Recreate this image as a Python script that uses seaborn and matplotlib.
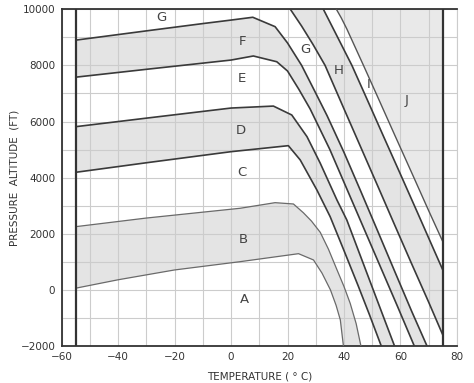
import matplotlib
matplotlib.use("Agg")
import matplotlib.pyplot as plt
import seaborn as sns
import numpy as np
import pandas as pd

# ---------------------------------------------------
# Chart data (temperature in deg C, altitude in ft)
# ---------------------------------------------------

# band F (upper left band, continues down to the right)
f_top_temp = [-55, -30, -10, 0, 7.7, 15.6, 20, 25, 30, 34, 40, 46, 52, 58, 64, 69.4]
f_top_alt = [8900, 9230, 9490, 9615, 9715, 9380, 8800, 8000, 7010, 6210, 4900, 3500, 2080, 650, -770, -2000]

f_bot_temp = [-55, -30, 0, 7.9, 16.2, 20, 24, 28, 35, 41, 47, 53, 59, 64.9]
f_bot_alt = [7580, 7860, 8190, 8335, 8130, 7800, 7150, 6450, 5000, 3600, 2200, 800, -600, -2000]

# band D
d_top_temp = [-55, -30, 0, 15, 21.5, 26.9, 31.6, 37.5, 41, 46, 51, 54.5, 57.9]
d_top_alt = [5816, 6120, 6480, 6550, 6233, 5460, 4512, 3204, 2491, 1160, -170, -1100, -2000]

d_bot_temp = [-55, -30, 0, 20.3, 24.5, 30.4, 35.1, 40, 45, 49, 53.2]
d_bot_alt = [4190, 4530, 4925, 5139, 4630, 3560, 2609, 1400, 150, -880, -2000]

# band B
b_top_temp = [-55, -30, 3.2, 15.6, 22.1, 25.6, 28.5, 31.6, 34.5, 37.5, 40, 42.2, 44.3, 46]
b_top_alt = [2253, 2560, 2908, 3108, 3061, 2750, 2450, 2050, 1450, 720, 120, -480, -1200, -2000]

b_bot_temp = [-55, -40, -20, 3.2, 23.9, 29.2, 32.2, 35.2, 37.2, 38.7, 39.8]
b_bot_alt = [60, 360, 710, 1005, 1290, 1066, 600, 0, -550, -1070, -2000]

# diagonal boundaries entering from the top edge
g_h_temp = [21, 25, 29, 33.3, 40, 46, 52, 58, 64, 70, 75]
g_h_alt = [10000, 9400, 8750, 8000, 6450, 5070, 3690, 2300, 920, -440, -1607]

h_i_temp = [32.7, 37, 42.8, 48, 54, 60, 66, 72, 75]
h_i_alt = [10000, 9150, 8000, 6830, 5470, 4120, 2760, 1390, 709]

i_j_temp = [37.3, 39, 41, 46.9, 52, 58, 64, 70, 75]
i_j_alt = [10000, 9700, 9300, 8000, 6860, 5510, 4170, 2820, 1718]

# envelope limits
limit_temps = [-55, 75]
temp_range = [-60, 80]
alt_range = [-2000, 10000]

# region letters
region_names = ["G", "F", "E", "D", "C", "B", "A", "G", "H", "I", "J"]
region_temp = [-24.8, 3.9, 3.9, 3.6, 3.9, 4.3, 4.6, 26.3, 38, 48.6, 62.1]
region_alt = [9690, 8835, 7550, 5695, 4200, 1813, -360, 8550, 7833, 7335, 6765]


# ---------------------------------------------------
# Figure
# ---------------------------------------------------

sns.set_style("white")

fig = plt.figure(figsize=(4.74, 3.83), dpi=100)
ax = fig.add_axes([0.130, 0.0966, 0.834, 0.8792])

shade = "#e4e4e4"
dark = "#3a3a3a"

# shaded bands (two curves closed into one polygon)
def fill_band(xa, ya, xb, yb, color=shade):
    px = np.concatenate([xa, xb[::-1]])
    py = np.concatenate([ya, yb[::-1]])
    ax.fill(px, py, color=color, lw=0, zorder=1)

fill_band(f_top_temp, f_top_alt, f_bot_temp, f_bot_alt)
fill_band(d_top_temp, d_top_alt, d_bot_temp, d_bot_alt)
fill_band(b_top_temp, b_top_alt, b_bot_temp, b_bot_alt)
fill_band(g_h_temp, g_h_alt, h_i_temp, h_i_alt)

# region J : right of the last diagonal up to the 75 deg line
fill_band(i_j_temp, i_j_alt, [limit_temps[1]], [alt_range[1]], color="#e9e9e9")

# boundary curves
curves = [
    (f_top_temp, f_top_alt, dark, 1.2),
    (f_bot_temp, f_bot_alt, dark, 1.2),
    (d_top_temp, d_top_alt, dark, 1.2),
    (d_bot_temp, d_bot_alt, dark, 1.2),
    (b_top_temp, b_top_alt, "#6a6a6a", 0.9),
    (b_bot_temp, b_bot_alt, "#6a6a6a", 0.9),
    (g_h_temp, g_h_alt, dark, 1.2),
    (h_i_temp, h_i_alt, dark, 1.2),
    (i_j_temp, i_j_alt, "#555555", 1.0),
]

for tx, ty, col, lw in curves:
    df = pd.DataFrame({"temp": tx, "alt": ty})
    sns.lineplot(data=df, x="temp", y="alt", sort=False, estimator=None,
                 color=col, lw=lw, ax=ax, zorder=3)

# envelope verticals
ax.vlines(limit_temps, alt_range[0], alt_range[1], colors="#333333", lw=1.6, zorder=3)

# region letters
for name, tx, ty in zip(region_names, region_temp, region_alt):
    ax.text(tx, ty, name, fontsize=9.5, color="#444444",
            ha="center", va="center", zorder=4)

# axes
ax.set_xlim(temp_range)
ax.set_ylim(alt_range)

ax.set_xticks(np.arange(-60, 81, 20))
ax.set_yticks(np.arange(-2000, 10001, 2000))
ax.set_xticks(np.arange(-60, 81, 10), minor=True)
ax.set_yticks(np.arange(-2000, 10001, 1000), minor=True)

ax.set_axisbelow("line")
ax.grid(which="both", color="#cccccc", lw=0.8)

ax.tick_params(axis="both", which="major", direction="out", length=3,
               width=1, colors="#333333", labelsize=7.5, pad=1.5)
ax.tick_params(axis="both", which="minor", length=0)

for side in ["left", "bottom", "top"]:
    ax.spines[side].set_color("#333333")
    ax.spines[side].set_linewidth(1.3)
ax.spines["right"].set_color("#cccccc")
ax.spines["right"].set_linewidth(0.8)

ax.set_xlabel("TEMPERATURE ( \u00b0 C)", fontsize=7.5, color="#333333", labelpad=7)
ax.set_ylabel("PRESSURE  ALTITUDE  (FT)", fontsize=7.5, color="#333333", labelpad=1)

fig.savefig("out.png", dpi=100)
plt.close(fig)
